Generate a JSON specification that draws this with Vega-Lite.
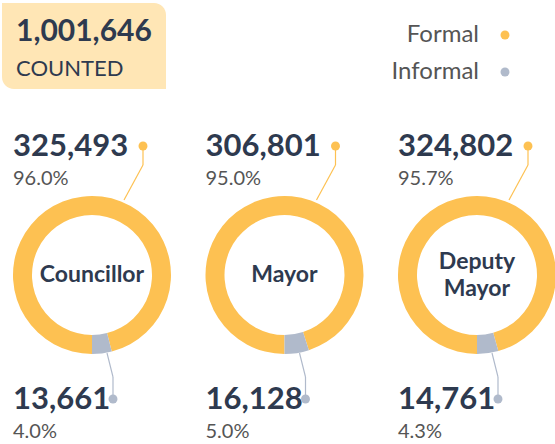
{
  "$schema": "https://vega.github.io/schema/vega-lite/v6.json",
  "width": 555,
  "height": 444,
  "autosize": "none",
  "padding": 0,
  "config": {
    "view": {"stroke": null},
    "font": "Lato",
    "axis": {"disable": true}
  },
  "data": {
    "values": [
      {"contest": "Councillor", "type": "Formal", "votes": 325493, "share": 0.960},
      {"contest": "Councillor", "type": "Informal", "votes": 13661, "share": 0.040},
      {"contest": "Mayor", "type": "Formal", "votes": 306801, "share": 0.950},
      {"contest": "Mayor", "type": "Informal", "votes": 16128, "share": 0.050},
      {"contest": "Deputy Mayor", "type": "Formal", "votes": 324802, "share": 0.957},
      {"contest": "Deputy Mayor", "type": "Informal", "votes": 14761, "share": 0.043}
    ]
  },
  "encoding": {
    "x": {
      "field": "contest",
      "type": "nominal",
      "scale": {"type": "point", "padding": 0, "domain": ["Councillor", "Mayor", "Deputy Mayor"], "range": [92, 477]}
    }
  },
  "layer": [
    {
      "transform": [{"aggregate": [{"op": "sum", "field": "votes", "as": "total"}]}],
      "layer": [
        {
          "mark": {"type": "rect", "x": 2, "x2": 166, "y": 3, "y2": 89, "fill": "#FFE6B5", "cornerRadiusTopRight": 12, "cornerRadiusBottomLeft": 12},
          "encoding": {"x": null}
        },
        {
          "mark": {"type": "text", "x": 16, "y": 32, "align": "left", "baseline": "middle", "fontSize": 30, "fontWeight": "bold", "color": "#2E3A4F"},
          "encoding": {"x": null, "text": {"field": "total", "type": "quantitative", "format": ","}}
        },
        {
          "mark": {"type": "text", "x": 16, "y": 69, "align": "left", "baseline": "middle", "fontSize": 22, "letterSpacing": 2, "color": "#2E3A4F", "text": "COUNTED"},
          "encoding": {"x": null}
        }
      ]
    },
    {
      "transform": [{"stack": "votes", "groupby": ["contest"], "sort": [{"field": "type", "order": "ascending"}], "offset": "normalize", "as": ["v0", "v1"]}],
      "mark": {"type": "arc", "outerRadius": 79, "innerRadius": 60, "yOffset": 128},
      "encoding": {
        "y": {"datum": "Formal", "type": "nominal", "scale": {"type": "point", "padding": 0, "domain": ["Formal", "Informal"], "range": [147, 400]}},
        "theta": {"field": "v0", "type": "quantitative", "scale": {"domain": [0, 1], "range": [3.14159265, 9.42477796]}},
        "theta2": {"field": "v1"},
        "color": {
          "field": "type",
          "type": "nominal",
          "scale": {"domain": ["Formal", "Informal"], "range": ["#FDC152", "#B0BACB"]},
          "legend": {
            "orient": "none", "legendX": 493, "legendY": 23, "title": null, "padding": 0,
            "symbolType": "circle", "symbolSize": 80, "symbolStrokeWidth": 0,
            "labelFontSize": 24, "labelColor": "#555555", "labelFont": "Lato",
            "labelAlign": "right", "labelOffset": -38, "rowPadding": 13, "labelLimit": 200
          }
        }
      }
    },
    {
      "transform": [{"filter": "datum.type === 'Formal' && datum.contest !== 'Deputy Mayor'"}],
      "mark": {"type": "text", "baseline": "middle", "fontSize": 23, "fontWeight": "bold", "color": "#2E3A4F", "dy": 128},
      "encoding": {
        "y": {"datum": "Formal", "type": "nominal"},
        "text": {"field": "contest", "type": "nominal"}
      }
    },
    {
      "transform": [{"filter": "datum.type === 'Formal' && datum.contest === 'Deputy Mayor'"}],
      "mark": {"type": "text", "baseline": "middle", "fontSize": 23, "fontWeight": "bold", "color": "#2E3A4F", "lineBreak": " ", "lineHeight": 27, "dy": 115},
      "encoding": {
        "y": {"datum": "Formal", "type": "nominal"},
        "text": {"field": "contest", "type": "nominal"}
      }
    },
    {
      "mark": {"type": "text", "align": "left", "baseline": "middle", "fontSize": 31, "fontWeight": "bold", "color": "#2E3A4F", "dx": -79},
      "encoding": {
        "y": {"field": "type", "type": "nominal"},
        "text": {"field": "votes", "type": "quantitative", "format": ","}
      }
    },
    {
      "mark": {"type": "text", "align": "left", "baseline": "middle", "fontSize": 20, "color": "#555555", "dx": -79, "dy": 32},
      "encoding": {
        "y": {"field": "type", "type": "nominal"},
        "text": {"field": "share", "type": "quantitative", "format": ".1%"}
      }
    },
    {
      "transform": [{"filter": "datum.type === 'Formal'"}],
      "layer": [
        {
          "mark": {"type": "rule", "color": "#FDC152", "strokeWidth": 1.2, "xOffset": 51, "yOffset": -1, "y2Offset": 18},
          "encoding": {"y": {"field": "type", "type": "nominal"}, "y2": {"field": "type"}}
        },
        {
          "mark": {"type": "rule", "color": "#FDC152", "strokeWidth": 1.2, "xOffset": 51, "x2Offset": 32, "yOffset": 18, "y2Offset": 53},
          "encoding": {"x2": {"field": "contest"}, "y": {"field": "type", "type": "nominal"}, "y2": {"field": "type"}}
        },
        {
          "mark": {"type": "point", "filled": true, "opacity": 1, "size": 80, "xOffset": 51, "yOffset": -1},
          "encoding": {"y": {"field": "type", "type": "nominal"}, "color": {"field": "type", "type": "nominal"}}
        }
      ]
    },
    {
      "transform": [{"filter": "datum.type === 'Informal'"}],
      "layer": [
        {
          "mark": {"type": "rule", "color": "#B0BACB", "strokeWidth": 1.2, "xOffset": 21, "yOffset": -1, "y2Offset": -23},
          "encoding": {"y": {"field": "type", "type": "nominal"}, "y2": {"field": "type"}}
        },
        {
          "mark": {"type": "rule", "color": "#B0BACB", "strokeWidth": 1.2, "xOffset": 21, "x2Offset": 15, "yOffset": -23, "y2Offset": -47},
          "encoding": {"x2": {"field": "contest"}, "y": {"field": "type", "type": "nominal"}, "y2": {"field": "type"}}
        },
        {
          "mark": {"type": "point", "filled": true, "opacity": 1, "size": 80, "xOffset": 21, "yOffset": -1},
          "encoding": {"y": {"field": "type", "type": "nominal"}, "color": {"field": "type", "type": "nominal"}}
        }
      ]
    }
  ]
}
